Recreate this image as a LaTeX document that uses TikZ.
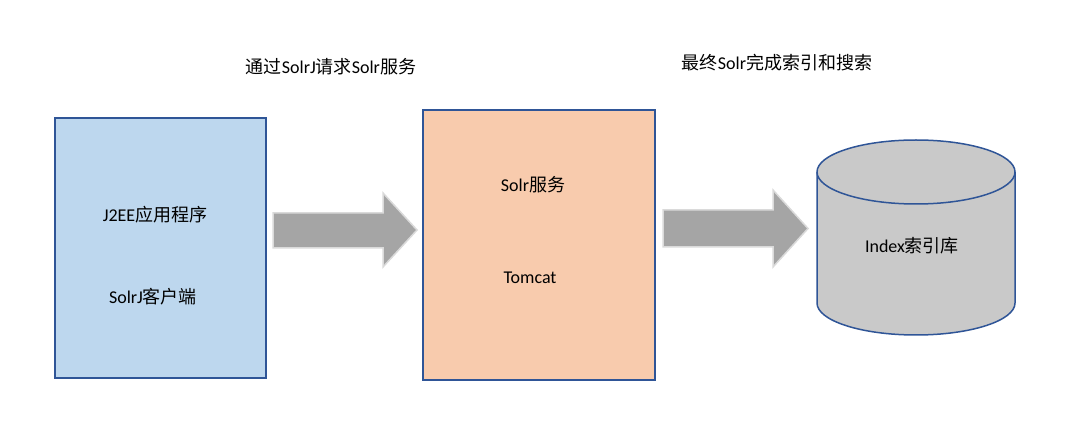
\documentclass[tikz,border=0pt]{standalone}
\usepackage{fontspec}
\setmainfont{Carlito}
\newfontfamily\cjk{Noto Sans CJK SC}
\newcommand{\zh}[1]{{\cjk #1}}
\definecolor{edgeblue}{HTML}{2F5597}
\definecolor{lightblue}{HTML}{BDD7EE}
\definecolor{peach}{HTML}{F8CBAD}
\definecolor{cylgray}{HTML}{C9C9C9}
\definecolor{arrgray}{HTML}{A5A5A5}
\definecolor{arredge}{HTML}{DADADA}
\tikzset{
  box/.style={draw=edgeblue, line width=1.5pt},
  lbl/.style={font=\fontsize{18}{21}\selectfont, inner sep=0pt, text=black},
  blockarrow/.style={fill=arrgray, draw=arredge, line width=1.5pt, line join=miter},
}
\begin{document}
\begin{tikzpicture}[x=1pt,y=1pt]
\useasboundingbox (0,0) rectangle (1078,439);
% left box
\draw[box, fill=lightblue] (55,321) rectangle (266,61);
\node[lbl] (j2ee) at (155,224) {J2EE\zh{应用程序}};
\node[lbl] (solrj) at (153,142) {SolrJ\zh{客户端}};
% middle box
\draw[box, fill=peach] (423,329) rectangle (655,59);
\node[lbl] (solrsvc) at (533,254) {Solr\zh{服务}};
\node[lbl] (tomcat) at (530,161) {Tomcat};
% arrows
\draw[blockarrow] (273,226) -- (383,226) -- (383,246) -- (417,209) -- (383,172) -- (383,191) -- (273,191) -- cycle;
\draw[blockarrow] (663,229) -- (773,229) -- (773,249) -- (808,210.5) -- (773,172) -- (773,192) -- (663,192) -- cycle;
% cylinder
\fill[cylgray] (817,267) -- (817,136) arc[start angle=180,end angle=360,x radius=99pt,y radius=32pt] -- (1015,267) arc[start angle=0,end angle=180,x radius=99pt,y radius=32pt] -- cycle;
\draw[edgeblue, line width=1.5pt] (817,267) -- (817,136) arc[start angle=180,end angle=360,x radius=99pt,y radius=32pt] -- (1015,267);
\draw[edgeblue, line width=1.5pt] (916,267) ellipse[x radius=99pt, y radius=32pt];
\node[lbl] (index) at (912,193) {Index\zh{索引库}};
% captions
\node[lbl] (cap1) at (331,372) {\zh{通过}SolrJ\zh{请求}Solr\zh{服务}};
\node[lbl] (cap2) at (777,376) {\zh{最终}Solr\zh{完成索引和搜索}};
\end{tikzpicture}
\end{document}
